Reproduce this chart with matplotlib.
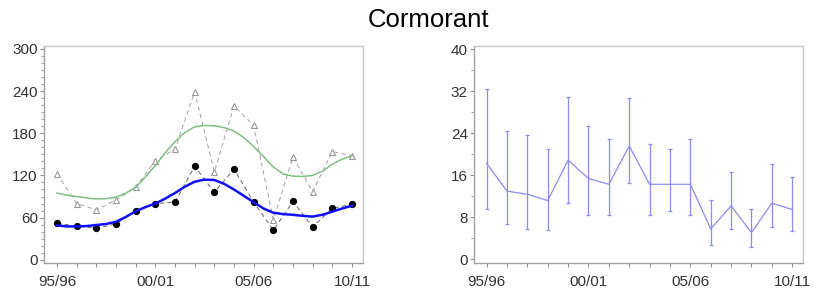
import matplotlib
matplotlib.use("Agg")
import matplotlib.pyplot as plt
import numpy as np

plt.rcParams['font.family'] = ['Liberation Sans', 'DejaVu Sans']

seasons = ["95/96", "96/97", "97/98", "98/99", "99/00", "00/01", "01/02", "02/03",
           "03/04", "04/05", "05/06", "06/07", "07/08", "08/09", "09/10", "10/11"]
xtick_labels = ["95/96", "00/01", "05/06", "10/11"]

# Left panel: observed counts
black_counts = [52, 48, 45, 51, 70, 80, 82, 133, 96, 129, 82, 42, 83, 47, 73, 79]
triangle_counts = [122, 80, 71, 85, 103, 141, 157, 239, 125, 219, 191, 57, 146, 97, 154, 148]

# Smoothed trends read at half-season steps
smooth_pos = [i * 0.5 for i in range(31)]
green_smooth = [95, 92, 90, 88, 86.5, 87, 89, 95, 103, 118, 134, 152, 168, 181, 189, 191,
                190.5, 188, 183, 174, 161, 147, 132, 122, 119, 118.5, 120, 126, 136, 143, 148]
blue_smooth = [49, 47.5, 47.5, 48, 49.5, 51, 54, 61, 69, 75, 80, 87, 95, 104, 111, 114,
               113.5, 108, 100, 91, 82, 73, 67, 65, 64, 62.5, 61.5, 64, 68.5, 73, 77]

# Right panel: mean with interval
mean_vals = [18.3, 13.0, 12.4, 11.2, 18.9, 15.4, 14.3, 21.6, 14.3, 14.3, 14.3, 5.8, 10.2, 5.1, 10.7, 9.5]
upper_vals = [32.4, 24.4, 23.6, 21.0, 30.9, 25.5, 22.9, 30.8, 22.0, 21.0, 22.9, 11.3, 16.6, 9.65, 18.2, 15.6]
lower_vals = [9.65, 6.7, 5.8, 5.5, 10.8, 8.5, 8.5, 14.5, 8.5, 9.3, 8.5, 2.7, 5.8, 2.4, 6.2, 5.4]

x = np.arange(len(seasons))
xt = [seasons.index(s) for s in xtick_labels]

fig = plt.figure(figsize=(8.14, 2.96), dpi=100)
fig.text(0.526, 0.932, "Cormorant", ha="center", va="center", fontsize=18.5, color="black")

spine_col = "#a0a0a0"
tick_col = "#909090"
lab_col = "#333333"

def style(ax):
    for s in ax.spines.values():
        s.set_color("#c8c8c8")
        s.set_linewidth(1.0)
    ax.spines['left'].set_color(spine_col)
    ax.spines['bottom'].set_color(spine_col)
    ax.tick_params(axis='both', colors=tick_col, labelcolor=lab_col, labelsize=11,
                   length=3, width=0.8, direction='out')
    ax.tick_params(axis='y', pad=1.5)
    ax.tick_params(axis='y', which='minor', length=2, width=0.6, colors=tick_col)
    ax.set_xticks(x, minor=True)
    ax.tick_params(axis='x', which='minor', length=3, width=0.8, colors=tick_col)
    ax.set_xticks(xt)
    ax.set_xticklabels(xtick_labels)
    ax.tick_params(axis='x', pad=6)

# Left
ax1 = fig.add_axes([44/814, 33/296, 319/814, 217.5/296])
ax1.plot(x, triangle_counts, linestyle=(0, (4, 3)), color="#aaaaaa", lw=0.8,
         marker="^", markersize=4, markerfacecolor="white", markeredgecolor="#999999",
         markeredgewidth=0.8, zorder=2)
ax1.plot(x, black_counts, linestyle=(0, (4, 3)), color="#777777", lw=0.8,
         marker="o", markersize=4.2, markerfacecolor="black", markeredgecolor="black", zorder=3)
ax1.plot(smooth_pos, green_smooth, color="#80c080", lw=1.1, zorder=4)
ax1.plot(smooth_pos, blue_smooth, color="#1010ff", lw=1.8, zorder=5)
ax1.set_xlim(-0.66, 15.56)
ax1.set_ylim(-4.5, 304.7)
ax1.set_yticks(np.arange(0, 301, 60))
ax1.set_yticks(np.arange(0, 301, 10), minor=True)
style(ax1)

# Right
ax2 = fig.add_axes([474/814, 33.5/296, 329/814, 216.5/296])
c = "#8c8cf0"
ax2.plot(x, mean_vals, color=c, lw=0.9, zorder=3)
err = [np.array(mean_vals) - np.array(lower_vals), np.array(upper_vals) - np.array(mean_vals)]
ax2.errorbar(x, mean_vals, yerr=err, fmt='none', ecolor=c, elinewidth=0.9, capsize=1.5,
             capthick=0.9, zorder=3)
ax2.set_xlim(-0.62, 15.53)
ax2.set_ylim(-0.6, 40.65)
ax2.set_yticks(np.arange(0, 41, 8))
ax2.set_yticks(np.arange(0, 41, 4), minor=True)
style(ax2)

fig.savefig("out.png", dpi=100, facecolor="white")
